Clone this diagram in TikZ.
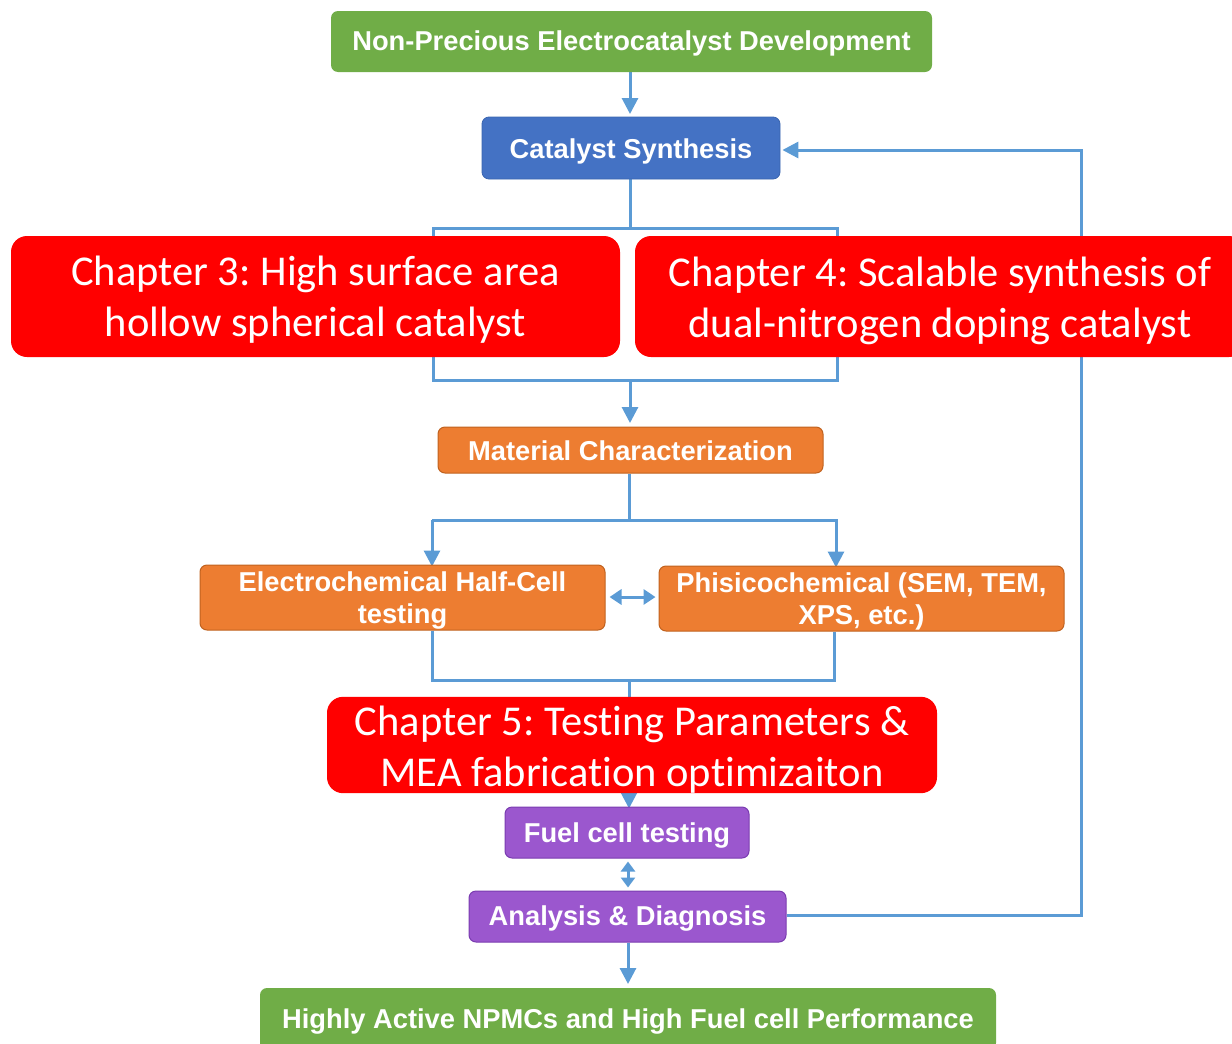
\documentclass[tikz,border=0pt]{standalone}
\usepackage{fontspec}
\setmainfont{Liberation Sans}
\newfontfamily\calib[Ligatures=NoCommon]{Carlito}
\usetikzlibrary{arrows.meta,backgrounds}
\definecolor{cgreen}{HTML}{70AD47}
\definecolor{cblue}{HTML}{4472C4}
\definecolor{cblueb}{HTML}{3A65B0}
\definecolor{corange}{HTML}{ED7D31}
\definecolor{corangeb}{HTML}{C0621F}
\definecolor{cpurple}{HTML}{9B57CE}
\definecolor{cpurpleb}{HTML}{7A3CB0}
\definecolor{cline}{HTML}{5B9BD5}
\definecolor{cred}{HTML}{FF0000}
\newcommand\padtop[2]{\raisebox{0pt}[\dimexpr\height+#1\relax]{#2}}
\frenchspacing
\begin{document}
\begin{tikzpicture}[x=1pt,y=-1pt,
  bx/.style={rounded corners=7pt, text=white, align=center, inner sep=0pt,
    font=\bfseries\fontsize{27.3}{32}\selectfont},
  gbox/.style={bx, fill=cgreen},
  bbox/.style={bx, fill=cblue, draw=cblueb, line width=0.8pt},
  obox/.style={bx, fill=corange, draw=corangeb, line width=1pt},
  pbox/.style={bx, fill=cpurple, draw=cpurpleb, line width=1pt},
  rbox/.style={rounded corners=16pt, fill=cred, text=white, align=center, inner sep=0pt,
    font=\calib\fontsize{42.5}{51}\selectfont},
  ln/.style={draw=cline, line width=3pt},
  arr/.style={ln, -{Triangle[length=16pt,width=16pt]}},
  darr/.style={ln, {Triangle[length=12pt,width=15pt]}-{Triangle[length=12pt,width=15pt]}},
  darrs/.style={ln, {Triangle[length=10pt,width=14pt]}-{Triangle[length=10pt,width=14pt]}}
]
\useasboundingbox (0,0) rectangle (1232,1044);

% nodes
\node[gbox, minimum width=601pt, minimum height=61pt] (top) at (631.5,41.5) {\padtop{4pt}{Non-Precious Electrocatalyst Development}};
\node[bbox, minimum width=298pt, minimum height=62pt] (syn) at (631,148) {\padtop{6pt}{Catalyst Synthesis}};
\node[rbox, minimum width=609pt, minimum height=121pt] (ch3) at (315.5,296.5) {\padtop{6pt}{Chapter 3: High surface area}\\hollow spherical catalyst};
\node[rbox, minimum width=610pt, minimum height=121pt] (ch4) at (940,296.5) {\padtop{8pt}{Chapter 4: Scalable synthesis of}\\dual-nitrogen doping catalyst};
\node[obox, minimum width=385pt, minimum height=46pt] (mat) at (630.5,450) {\padtop{2pt}{Material Characterization}};
\node[obox, minimum width=405pt, minimum height=65pt] (ech) at (402.5,597.5) {\padtop{6pt}{Electrochemical Half-Cell}\\testing};
\node[obox, minimum width=405pt, minimum height=65pt] (phi) at (861.5,598.5) {\padtop{6pt}{Phisicochemical (SEM, TEM,}\\XPS, etc.)};
\node[rbox, minimum width=610pt, minimum height=96pt] (ch5) at (632,745) {\padtop{9pt}{Chapter 5: Testing Parameters \&}\\MEA fabrication optimizaiton};
\node[pbox, minimum width=244pt, minimum height=51pt] (fct) at (627,832.5) {\padtop{6pt}{Fuel cell testing}};
\node[pbox, minimum width=317pt, minimum height=51pt] (ana) at (627.5,916.5) {\padtop{4pt}{Analysis \& Diagnosis}};
\node[gbox, minimum width=736pt, minimum height=62pt] (bot) at (628,1019) {\padtop{4pt}{Highly Active NPMCs and High Fuel cell Performance}};

% helper coordinates
\coordinate (b1l) at (433,228);
\coordinate (b1r) at (837,228);
\coordinate (b2l) at (433,380);
\coordinate (b2r) at (837,380);
\coordinate (fb) at (1081,150);
\coordinate (m2l) at (432,520);
\coordinate (m2r) at (836,520);
\coordinate (j3l) at (432,680);
\coordinate (j3r) at (834,680);
\coordinate (j3m) at (629,680);

\begin{scope}[on background layer]
\draw[arr] (top.south -| 630,0) -- (630,114);
\draw[ln] (syn.south -| 630,0) -- (630,228);
\draw[ln] (b1l) -- (b1r) -- (b2r) -- (b2l) -- cycle;
\draw[arr] (630,380) -- (630,423);
\draw[arr] (ana.east |- 0,915) -| (fb) -- ([xshift=2pt]syn.east |- fb);
\draw[ln] (mat.south -| 629,0) -- (629,520);
\draw[arr] (m2l) -- ([yshift=-2pt]m2l |- ech.north);
\draw[arr] (m2l) -- (m2r) -- ([yshift=-2pt]m2r |- phi.north);
\draw[darr, shorten <=4pt, shorten >=3pt] (ech.east |- 0,597) -- (phi.west |- 0,597);
\draw[ln] (j3l |- ech.south) -- (j3l) -- (j3r) -- (j3r |- phi.south);
\draw[arr] (j3m) -- ([yshift=-2pt]j3m |- fct.north);
\draw[darrs, shorten <=3pt, shorten >=3pt] (fct.south -| 628,0) -- (ana.north -| 628,0);
\draw[arr] (ana.south -| 628,0) -- (628,984);
\end{scope}
\end{tikzpicture}
\end{document}
